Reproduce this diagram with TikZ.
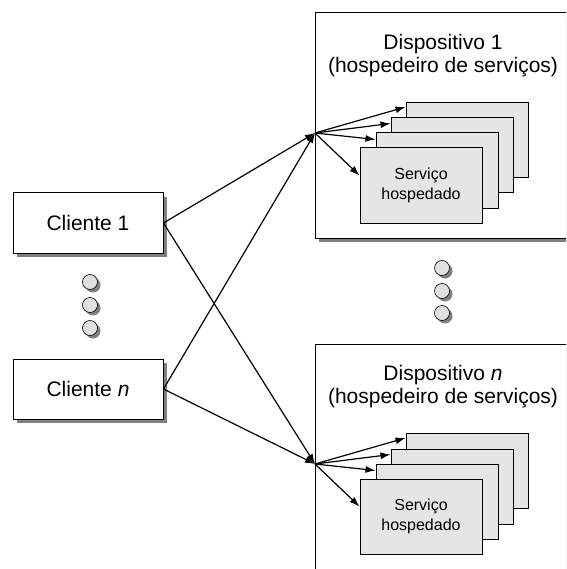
\documentclass[tikz,border=0pt]{standalone}
\usepackage{fontspec}
\setmainfont{Liberation Sans}
\usetikzlibrary{arrows.meta,shadows}

\tikzset{
  boxshadow/.style={general shadow={fill=black!50, shadow xshift=4pt, shadow yshift=-4pt}},
  clientbox/.style={draw=black, line width=1pt, fill=white, boxshadow,
    minimum width=150pt, minimum height=60pt, inner sep=0pt,
    font=\fontsize{21}{24}\selectfont},
  hostbox/.style={draw=black, line width=1pt, fill=white, boxshadow,
    minimum width=285pt, minimum height=225pt, inner sep=0pt},
  hosttitle/.style={align=center, font=\fontsize{21}{23}\selectfont, inner sep=0pt},
  svcbox/.style={draw=black, line width=1pt, fill=black!10,
    minimum width=122pt, minimum height=75pt, inner sep=0pt,
    align=center, font=\fontsize{16}{20}\selectfont},
  dotc/.style={circle, draw=black, line width=0.6pt, fill=black!12,
    minimum size=15pt, inner sep=0pt,
    general shadow={fill=black!50, shadow xshift=3pt, shadow yshift=-3pt}},
  link/.style={line width=1.2pt, -{Latex[length=10pt,width=7pt]}},
}

\begin{document}
\begin{tikzpicture}[x=1pt, y=-1pt]
  \useasboundingbox (0,0) rectangle (566,569);
  \clip (0,0) rectangle (566,569);

  % service hosts (running off the right side of the page)
  \node[hostbox] (dev1) at (457.5,125.5) {};
  \node[hostbox, minimum height=260pt] (devn) at (457.5,474) {};
  \node[hosttitle] (t1) at (443,56) {Dispositivo 1\\(hospedeiro de serviços)};
  \node[hosttitle] (tn) at (443,387) {Dispositivo \textit{n}\\(hospedeiro de serviços)};

  % stacked hosted services, back to front
  \foreach \h/\dy in {1/0, n/331} {
    \node[svcbox] (s\h d) at (467,{140+\dy}) {};
    \node[svcbox] (s\h c) at (452,{155.5+\dy}) {};
    \node[svcbox] (s\h b) at (437,{170.5+\dy}) {};
    \node[svcbox] (s\h a) at (421,{185.5+\dy}) {Serviço\\hospedado};
  }

  % clients
  \node[clientbox] (c1) at (88,223) {Cliente 1};
  \node[clientbox] (cn) at (88,389) {Cliente \textit{n}};

  % ellipsis dots
  \foreach \i/\y in {1/282, 2/305, 3/328}
    \node[dotc] (ld\i) at (90,\y) {};
  \foreach \i/\y in {1/268, 2/291, 3/313}
    \node[dotc] (rd\i) at (442,\y) {};

  % entry points of the hosts
  \coordinate (f1) at (315,133);
  \coordinate (fn) at (315,464);

  % client connections
  \draw[link] (c1.east) -- (f1);
  \draw[link] (c1.east) -- (fn);
  \draw[link] (cn.east) -- (f1);
  \draw[link] (cn.east) -- (fn);

  % dispatch to hosted services
  \foreach \h/\f in {1/f1, n/fn} {
    \draw[link] (\f) -- ([yshift=-5pt]s\h d.north west);
    \draw[link] (\f) -- ([yshift=-6pt]s\h c.north west);
    \draw[link] (\f) -- ([yshift=-7pt]s\h b.north west);
    \draw[link] (\f) -- ([yshift=10pt]s\h a.west);
  }
\end{tikzpicture}
\end{document}
